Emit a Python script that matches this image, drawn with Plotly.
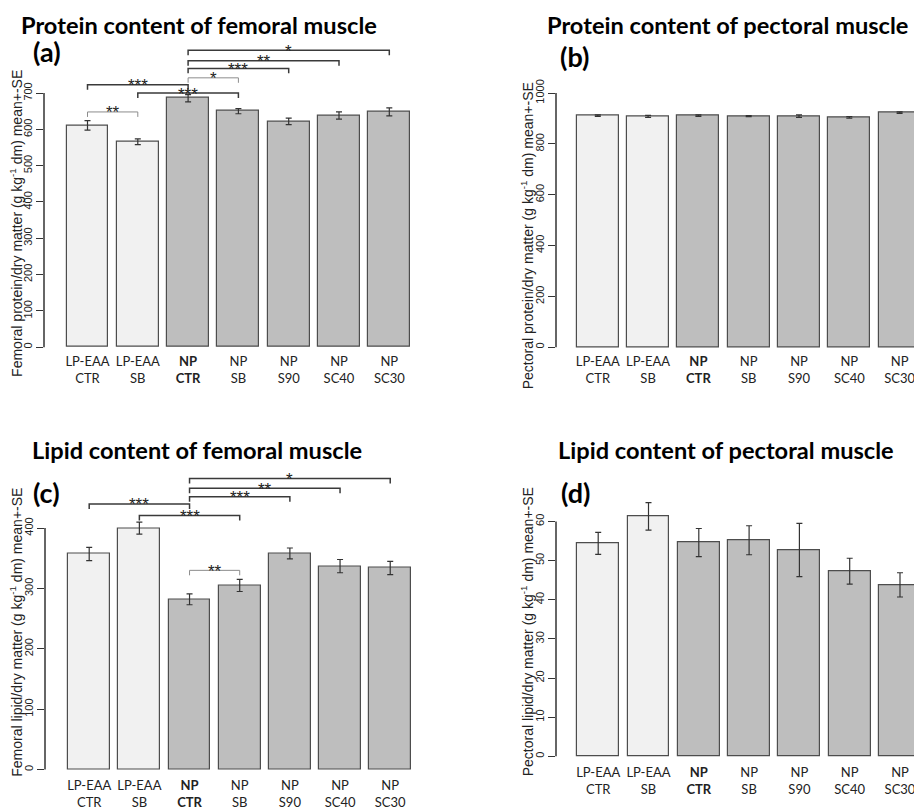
import plotly.graph_objects as go

# ---------------- data ----------------
categories = ["LP-EAA CTR", "LP-EAA SB", "NP CTR", "NP SB", "NP S90", "NP SC40", "NP SC30"]
tick_labels = ["LP-EAA<br>CTR", "LP-EAA<br>SB", "<b>NP<br>CTR</b>", "NP<br>SB",
               "NP<br>S90", "NP<br>SC40", "NP<br>SC30"]
groups = ["LP-EAA", "LP-EAA", "NP", "NP", "NP", "NP", "NP"]

fem_protein = [611, 566, 686, 650, 622, 638, 648]
fem_protein_se = [13, 8, 10, 7, 9, 10, 11]
pec_protein = [911, 908, 911, 909, 909, 904, 923]
pec_protein_se = [3, 4, 3, 2, 5, 3, 3]
fem_lipid = [357, 400, 282, 305, 358, 337, 334]
fem_lipid_se = [11, 10, 9, 10, 9, 11, 11]
pec_lipid = [54.4, 61.3, 54.6, 55.2, 52.7, 47.3, 43.8]
pec_lipid_se = [2.8, 3.5, 3.6, 3.7, 6.8, 3.3, 3.1]

# significance brackets: (from index, to index, height, label, strong line)
fem_protein_sig = [(0, 1, 648, "**", False), (0, 2, 723, "***", True),
                   (1, 3, 700, "***", True), (2, 3, 742, "*", False),
                   (2, 4, 768, "***", True), (2, 5, 789, "**", True),
                   (2, 6, 818, "*", True)]
fem_lipid_sig = [(0, 2, 440, "***", True), (1, 3, 421, "***", True),
                 (2, 3, 330, "**", False), (2, 4, 452, "***", True),
                 (2, 5, 466, "**", True), (2, 6, 482, "*", True)]

titles = ["Protein content of femoral muscle", "Protein content of pectoral muscle",
          "Lipid content of femoral muscle", "Lipid content of pectoral muscle"]
letters = ["(a)", "(b)", "(c)", "(d)"]
ytitles = ["Femoral protein/dry matter (g kg<sup>-1</sup> dm) mean+-SE",
           "Pectoral protein/dry matter (g kg<sup>-1</sup> dm) mean+-SE",
           "Femoral lipid/dry matter (g kg<sup>-1</sup> dm) mean+-SE",
           "Pectoral lipid/dry matter (g kg<sup>-1</sup> dm) mean+-SE"]
yticks = [list(range(0, 701, 100)), list(range(0, 1001, 200)),
          list(range(0, 401, 100)), list(range(0, 61, 10))]

# ---------------- layout geometry (window pixels) ----------------
OFF = 8                      # page body margin in the browser
W, H = 922 - OFF, 810 - OFF  # figure size


def fx(px):
    return (px - OFF) / W


def fy(py):
    return 1 - (py - OFF) / H


panels = [
    dict(values=fem_protein, se=fem_protein_se, sig=fem_protein_sig,
         left=44, right=430, c0=87.5, pitch=50.3, zero=347.7, scale=256 / 700,
         top=40, bottom=350,
         title_xy=(19, 23), letter_xy=(31, 50), ytitle_xy=(16.5, 223)),
    dict(values=pec_protein, se=pec_protein_se, sig=[],
         left=556, right=922, c0=597.8, pitch=50.3, zero=347.7, scale=256 / 1000,
         top=80, bottom=350,
         title_xy=(545, 23), letter_xy=(558, 55), ytitle_xy=(527, 236)),
    dict(values=fem_lipid, se=fem_lipid_se, sig=fem_lipid_sig,
         left=45, right=430, c0=89.2, pitch=50.17, zero=773.3, scale=243.3 / 400,
         top=465, bottom=777,
         title_xy=(30, 451), letter_xy=(31, 494), ytitle_xy=(16.5, 635)),
    dict(values=pec_lipid, se=pec_lipid_se, sig=[],
         left=556, right=922, c0=598.2, pitch=50.3, zero=760, scale=236.7 / 60,
         top=500, bottom=764,
         title_xy=(556, 451), letter_xy=(559, 494), ytitle_xy=(527, 635)),
]

color_map = {"LP-EAA": "#f1f1f1", "NP": "#bebebe"}
bar_colors = [color_map[g] for g in groups]
xpos = list(range(len(categories)))

fig = go.Figure()
shapes = []
annotations = []
layout_axes = {}

for k, p in enumerate(panels):
    n = k + 1
    xa = "x" if n == 1 else f"x{n}"
    ya = "y" if n == 1 else f"y{n}"
    fig.add_trace(go.Bar(
        x=xpos, y=p["values"], width=1 / 1.2,
        marker=dict(color=bar_colors, line=dict(color="#4d4d4d", width=1.2)),
        error_y=dict(type="data", array=p["se"], visible=True,
                     color="#333333", thickness=1.2, width=3),
        xaxis=xa, yaxis=ya, showlegend=False, hoverinfo="skip",
        customdata=categories,
    ))
    xr = [(p["left"] - p["c0"]) / p["pitch"], (p["right"] - p["c0"]) / p["pitch"]]
    yr = [(p["zero"] - p["bottom"]) / p["scale"], (p["zero"] - p["top"]) / p["scale"]]
    xkey = "xaxis" if n == 1 else f"xaxis{n}"
    ykey = "yaxis" if n == 1 else f"yaxis{n}"
    layout_axes[xkey] = dict(
        domain=[fx(p["left"]), min(fx(p["right"]), 1.0)], range=xr, anchor=ya,
        tickmode="array", tickvals=xpos, ticktext=tick_labels,
        showline=False, showgrid=False, zeroline=False, ticks="",
        tickfont=dict(family="Lato", size=13, color="#222222"),
        ticklabelstandoff=3, fixedrange=True,
    )
    layout_axes[ykey] = dict(
        domain=[fy(p["bottom"]), fy(p["top"])], range=yr, anchor=xa,
        tickmode="array", tickvals=yticks[k], ticktext=[str(v) for v in yticks[k]],
        showline=False, showgrid=False, zeroline=False,
        ticks="outside", ticklen=7, tickwidth=1, tickcolor="#333333",
        tickangle=-90, tickfont=dict(family="Liberation Sans", size=11, color="#222222"),
        fixedrange=True,
    )
    # y axis line from 0 to last tick (R style)
    shapes.append(dict(type="line", xref=f"{xa} domain", yref=ya, x0=0, x1=0,
                       y0=yticks[k][0], y1=yticks[k][-1],
                       line=dict(color="#333333", width=1.5)))
    # significance brackets
    drop = 5 / p["scale"]
    for (i, j, h, lab, strong) in p["sig"]:
        col = "#3a3a3a" if strong else "#8c8c8c"
        lw = 1.5 if strong else 1
        shapes.append(dict(type="path", xref=xa, yref=ya,
                           path=f"M {xpos[i]},{h - drop} L {xpos[i]},{h} L {xpos[j]},{h} L {xpos[j]},{h - drop}",
                           line=dict(color=col, width=lw)))
        annotations.append(dict(xref=xa, yref=ya, x=(xpos[i] + xpos[j]) / 2, y=h,
                                text=lab, showarrow=False, yanchor="middle", yshift=-1,
                                font=dict(family="Liberation Sans", size=17, color="#222222")))
    # titles and letters
    tx, ty = p["title_xy"]
    annotations.append(dict(xref="paper", yref="paper", x=fx(tx), y=fy(ty),
                            xanchor="left", yanchor="middle", showarrow=False,
                            text=f"<b>{titles[k]}</b>",
                            font=dict(family="Lato", size=23.6, color="#000000")))
    lx, ly = p["letter_xy"]
    annotations.append(dict(xref="paper", yref="paper", x=fx(lx), y=fy(ly),
                            xanchor="left", yanchor="middle", showarrow=False,
                            text=f"<b>{letters[k]}</b>",
                            font=dict(family="Lato", size=27, color="#000000")))
    yx, yy = p["ytitle_xy"]
    annotations.append(dict(xref="paper", yref="paper", x=fx(yx), y=fy(yy),
                            xanchor="center", yanchor="middle", showarrow=False,
                            textangle=-90, text=ytitles[k],
                            font=dict(family="Liberation Sans", size=14, color="#222222")))

fig.update_layout(
    width=W, height=H, margin=dict(l=0, r=0, t=0, b=0),
    paper_bgcolor="white", plot_bgcolor="white",
    shapes=shapes, annotations=annotations, bargap=0,
    **layout_axes,
)
fig.write_html("out.html")
